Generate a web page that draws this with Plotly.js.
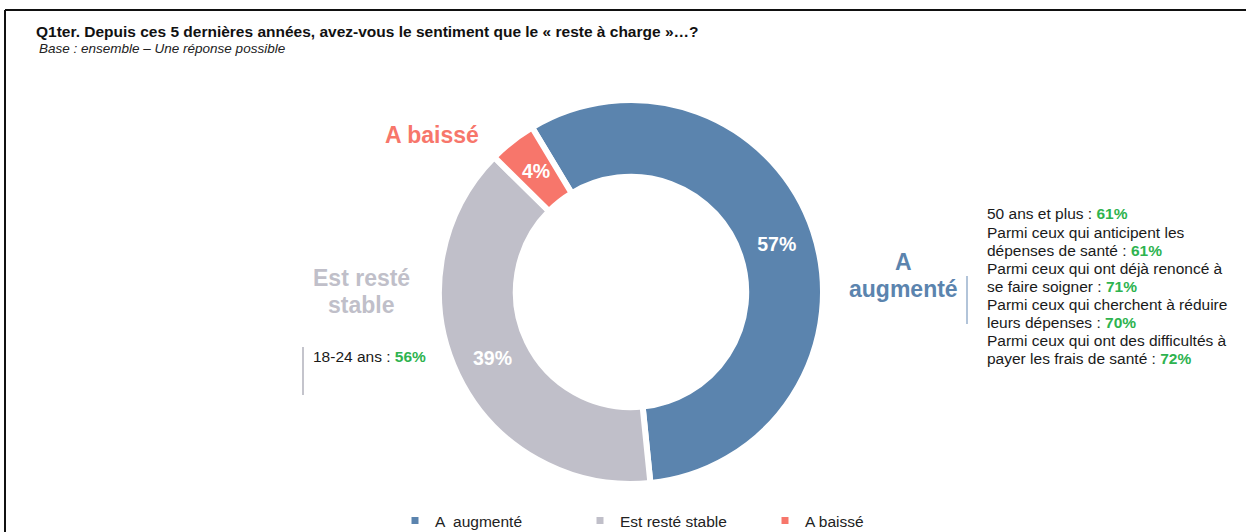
<!DOCTYPE html>
<html>
<head>
<meta charset="utf-8">
<script src="https://cdn.plot.ly/plotly-3.0.1.min.js"></script>
<style>
  html, body { margin: 0; padding: 0; background: #fff; }
  #chart { width: 1246px; height: 532px; }
</style>
</head>
<body>
<div id="chart"></div>
<script>
// ---- Data ----
const categories = ['A  augmenté', 'Est resté stable', 'A baissé'];
const values = [57, 39, 4];
const sliceColors = ['#5b84ae', '#c0bfc9', '#f7766b'];
const calloutLabels = ['A<br>augmenté', 'Est resté<br>stable', 'A baissé'];

const chartTitle = 'Q1ter. Depuis ces 5 dernières années, avez-vous le sentiment que le « reste à charge »…?';
const chartSubtitle = 'Base : ensemble – Une réponse possible';

const leftNoteLabels = ['18-24 ans'];
const leftNoteValues = [56];

const rightNoteLabels = [
  '50 ans et plus',
  'Parmi ceux qui anticipent les<br>dépenses de santé',
  'Parmi ceux qui ont déjà renoncé à<br>se faire soigner',
  'Parmi ceux qui cherchent à réduire<br>leurs dépenses',
  'Parmi ceux qui ont des difficultés à<br>payer les frais de santé'
];
const rightNoteValues = [61, 61, 71, 70, 72];

// ---- Helpers ----
const W = 1246, H = 532;
const px = x => x / W;
const py = y => 1 - y / H;
const green = '#2eb34f';
const fontFamily = '"Liberation Sans", Arial, sans-serif';

function noteLines(labels, vals) {
  const out = [];
  labels.forEach((l, i) => {
    const parts = l.split('<br>');
    parts.forEach((p, j) => {
      if (j === parts.length - 1) {
        out.push(p + ' : <b><span style="color:' + green + '">' + vals[i] + '%</span></b>');
      } else {
        out.push(p);
      }
    });
  });
  return out;
}

// Pie geometry
const cx = 631, cy = 292, R = 192, HOLE = 0.6, ROT = -31;
const pctFont = { family: fontFamily, size: 19.5, color: '#ffffff', weight: 'bold' };

// the narrow slice's label is placed at the mid-angle of that slice (computed from the data)
const total = values.reduce((a, b) => a + b, 0);
const smallIdx = values.indexOf(Math.min(...values));
const textPositions = values.map((v, i) => i === smallIdx ? 'none' : 'inside');

const trace = {
  type: 'pie',
  labels: categories,
  values: values,
  sort: false,
  direction: 'clockwise',
  rotation: ROT,
  hole: HOLE,
  marker: { colors: sliceColors, line: { color: '#ffffff', width: 6 } },
  texttemplate: '%{value}%',
  textposition: textPositions,
  insidetextorientation: 'horizontal',
  insidetextfont: pctFont,
  hoverinfo: 'label+value',
  domain: { x: [px(cx - R), px(cx + R)], y: [py(cy + R), py(cy - R)] }
};

const calloutPos = [
  { x: 903, y: 262 },
  { x: 361, y: 278 },
  { x: 432, y: 135 }
];
const calloutLineGap = 27;

const annotations = [];
// subtitle
annotations.push({
  xref: 'paper', yref: 'paper', x: px(37), y: py(48), xanchor: 'left', yanchor: 'middle',
  text: '<i>' + chartSubtitle + '</i>', showarrow: false,
  font: { family: fontFamily, size: 13.5, color: '#222222' }
});
// small-slice percentage label
(function () {
  let cum = 0;
  for (let i = 0; i < smallIdx; i++) cum += values[i];
  const midDeg = ROT + 360 * (cum + values[smallIdx] / 2) / total;
  const rMid = R * (1 + HOLE) / 2;
  const a = midDeg * Math.PI / 180;
  annotations.push({
    xref: 'paper', yref: 'paper',
    x: px(cx + rMid * Math.sin(a)), y: py(cy - rMid * Math.cos(a)),
    xanchor: 'center', yanchor: 'middle',
    text: '<b>' + values[smallIdx] + '%</b>', showarrow: false,
    font: pctFont
  });
})();
// category callouts
calloutLabels.forEach((t, i) => {
  t.split('<br>').forEach((line, j) => {
    annotations.push({
      xref: 'paper', yref: 'paper', x: px(calloutPos[i].x), y: py(calloutPos[i].y + j * calloutLineGap),
      xanchor: 'center', yanchor: 'middle', align: 'center',
      text: '<b>' + line + '</b>', showarrow: false,
      font: { family: fontFamily, size: 23, color: sliceColors[i] }
    });
  });
});
// left note
noteLines(leftNoteLabels, leftNoteValues).forEach((line, k) => {
  annotations.push({
    xref: 'paper', yref: 'paper', x: px(311), y: py(356 + k * 18), xanchor: 'left', yanchor: 'middle', align: 'left',
    text: line, showarrow: false,
    font: { family: fontFamily, size: 15.5, color: '#1a1a1a' }
  });
});
// right note
noteLines(rightNoteLabels, rightNoteValues).forEach((line, k) => {
  annotations.push({
    xref: 'paper', yref: 'paper', x: px(985), y: py(214 + k * 18), xanchor: 'left', yanchor: 'middle', align: 'left',
    text: line, showarrow: false,
    font: { family: fontFamily, size: 15.5, color: '#1a1a1a' }
  });
});

const shapes = [
  // frame
  { type: 'line', xref: 'paper', yref: 'paper', x0: px(5), x1: 1, y0: py(10), y1: py(10), line: { color: '#111111', width: 2 } },
  { type: 'line', xref: 'paper', yref: 'paper', x0: px(5), x1: px(5), y0: py(10), y1: 0, line: { color: '#111111', width: 2 } },
  // note bars
  { type: 'line', xref: 'paper', yref: 'paper', x0: px(303), x1: px(303), y0: py(347), y1: py(395), line: { color: '#c4c4cc', width: 2 } },
  { type: 'line', xref: 'paper', yref: 'paper', x0: px(967), x1: px(967), y0: py(276), y1: py(324), line: { color: '#98b0cc', width: 1.5 } }
];

const layout = {
  width: W, height: H,
  margin: { l: 0, r: 0, t: 0, b: 0, autoexpand: false },
  paper_bgcolor: '#ffffff',
  plot_bgcolor: '#ffffff',
  font: { family: fontFamily, color: '#222222' },
  title: {
    text: '<b>' + chartTitle + '</b>',
    x: px(36), xanchor: 'left', xref: 'paper',
    y: py(32), yanchor: 'middle', yref: 'paper',
    font: { family: fontFamily, size: 15.5, color: '#111111' }
  },
  showlegend: true,
  legend: {
    orientation: 'h',
    x: px(395), xanchor: 'left',
    y: py(521), yanchor: 'middle',
    font: { family: fontFamily, size: 15.5, color: '#222222' },
    entrywidth: 140,
    entrywidthmode: 'pixels',
    itemwidth: 30,
    traceorder: 'normal'
  },
  annotations: annotations,
  shapes: shapes
};

Plotly.newPlot('chart', [trace], layout, { displayModeBar: false, staticPlot: true });
</script>
</body>
</html>
